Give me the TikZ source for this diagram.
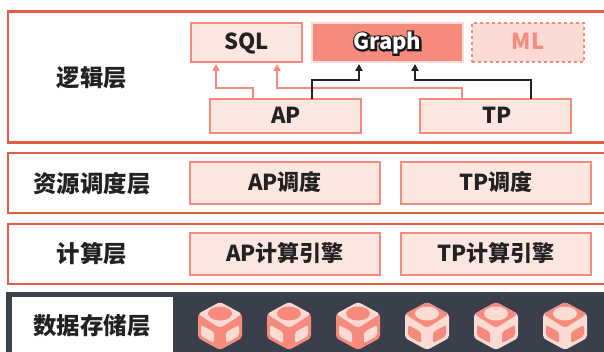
\documentclass[tikz,border=0pt]{standalone}
\usepackage{fontspec}
\setmainfont{Noto Sans CJK SC}
\usetikzlibrary{arrows.meta}
\definecolor{LayerRed}{RGB}{228, 94, 68}
\definecolor{BoxSalmon}{RGB}{246, 138, 124}
\definecolor{BoxPale}{RGB}{252, 230, 224}
\definecolor{CubePale}{RGB}{252, 219, 213}
\definecolor{BandDark}{RGB}{58, 63, 76}
\definecolor{InkBlack}{RGB}{34, 34, 34}
\tikzset{
    layerbox/.style={draw=LayerRed, line width=2.6pt, fill=white, outer sep=0pt, minimum width=610pt},
    layertext/.style={font=\bfseries\fontsize{23.4}{23.4}\selectfont, text=InkBlack, inner sep=0pt},
    subbox/.style={draw=BoxSalmon, line width=2.8pt, fill=BoxPale, outer sep=0pt, font=\bfseries\fontsize{22}{22}\selectfont, text=InkBlack, inner sep=0pt, text height=14.5pt, text depth=0pt},
    redline/.style={draw=BoxSalmon, line width=2pt, -{Triangle[length=7pt,width=7pt]}, shorten >=2pt},
    blackline/.style={draw=InkBlack, line width=2pt, -{Triangle[length=7pt,width=7pt]}, shorten >=2pt}
}
\newcommand{\outlinetext}[1]{\rlap{\special{pdf:code q 2 Tr 3.4 w 0.1 0.1 0.1 RG 0.1 0.1 0.1 rg}#1\special{pdf:code Q}}#1}
\begin{document}
\begin{tikzpicture}[x=1pt, y=-1pt]
    \useasboundingbox (0,0) rectangle (604,352);

    % Layers
    \node[layerbox, minimum height=131pt] (logic) at (313,77) {};
    \node[layerbox, minimum height=60pt] (sched) at (313,183) {};
    \node[layerbox, minimum height=60pt] (comp) at (313,254) {};
    \node[fill=BandDark, minimum width=610pt, minimum height=64pt, outer sep=0pt] (band) at (311,324) {};
    \node[fill=white, minimum width=161pt, minimum height=58pt, outer sep=0pt] (bandlabel) at (92.5,326) {};

    \node[layertext] (logictext) at (92,78) {逻辑层};
    \node[layertext] (schedtext) at (92,184) {资源调度层};
    \node[layertext] (comptext) at (92,254) {计算层};
    \node[layertext] (storetext) at (92,326) {数据存储层};

    % Logic layer
    \node[subbox, minimum width=111pt, minimum height=39pt] (sql) at (246.5,42.5) {SQL};
    \node[subbox, draw=CubePale, fill=BoxSalmon, text=white, minimum width=151pt, minimum height=39pt] (graph) at (387.5,42.5) {\outlinetext{Graph}};
    \node[subbox, dashed, fill=CubePale, text=BoxSalmon, minimum width=112pt, minimum height=39pt] (ml) at (528,42.5) {ML};
    \node[subbox, minimum width=151pt, minimum height=34pt] (ap) at (285.5,116) {\hspace{1.5pt}AP};
    \node[subbox, minimum width=151pt, minimum height=34pt] (tp) at (495.5,116) {\hspace{3pt}TP};

    \draw[redline] ([xshift=-32.5pt]ap.north) -- ++(0,-11) -| ([xshift=-30.5pt]sql.south);
    \draw[redline] ([xshift=-33.5pt]tp.north) -- ++(0,-11) -| ([xshift=30.5pt]sql.south);
    \draw[blackline] ([xshift=26.5pt]ap.north) -- ++(0,-19) -| ([xshift=-28.5pt]graph.south);
    \draw[blackline] ([xshift=35.5pt]tp.north) -- ++(0,-19) -| ([xshift=27.5pt]graph.south);

    % Scheduling and compute
    \node[subbox, minimum width=190pt, minimum height=42pt] (apsched) at (285,183) {AP调度};
    \node[subbox, minimum width=190pt, minimum height=42pt] (tpsched) at (496,183) {TP调度};
    \node[subbox, minimum width=190pt, minimum height=42pt] (apcomp) at (285,254) {AP计算引擎};
    \node[subbox, minimum width=190pt, minimum height=42pt] (tpcomp) at (496,254) {TP计算引擎};

    % Storage cubes
    \foreach \cx/\sidecol/\topcol in {220/BoxSalmon/CubePale, 289/BoxSalmon/CubePale, 358/BoxSalmon/CubePale, 427/CubePale/BoxSalmon, 496/CubePale/BoxSalmon, 565/CubePale/BoxSalmon} {
        \begin{scope}[xshift=\cx pt, yshift=-326pt]
            \fill[\sidecol, rounded corners=3pt] (0,-24) -- (22,-12) -- (22,12) -- (0,24) -- (-22,12) -- (-22,-12) -- cycle;
            \fill[\topcol, rounded corners=3pt] (0,-24) -- (22,-12) -- (0,2) -- (-22,-12) -- cycle;
            \fill[\sidecol] (0,-12.5) ellipse (12pt and 7pt);
            \fill[\topcol, rounded corners=2pt] (-19,-1) -- (-6,6) -- (-6,17) -- (-19,10) -- cycle;
            \fill[\topcol, rounded corners=2pt] (19,-1) -- (6,6) -- (6,17) -- (19,10) -- cycle;
        \end{scope}
    }
\end{tikzpicture}
\end{document}
